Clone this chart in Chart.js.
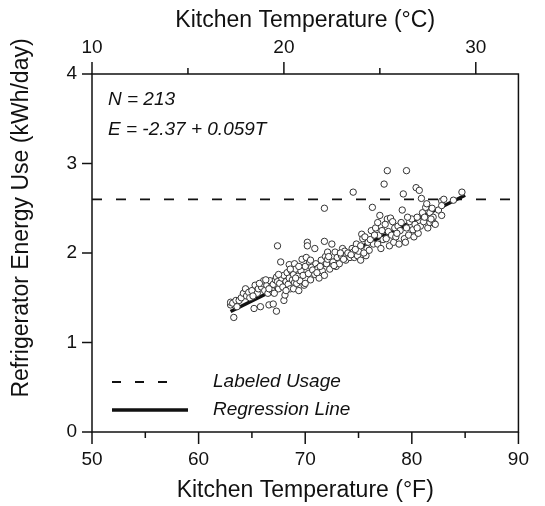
<!DOCTYPE html>
<html>
<head>
<meta charset="utf-8">
<script src="https://cdn.jsdelivr.net/npm/chart.js@4.4.1/dist/chart.umd.min.js"></script>
<style>
  html, body { margin: 0; padding: 0; background: #fff; }
  #wrap { width: 545px; height: 506px; position: relative; }
</style>
</head>
<body>
<div id="wrap"><canvas id="chart"></canvas></div>
<script>
// kitchen temperature (°F) and daily refrigerator energy use (kWh/day), paired by index
const tempF = [
  63.0, 63.0, 63.2, 63.3, 63.5, 63.6, 63.8, 64.0, 64.2, 64.4, 64.5, 64.7,
  65.0, 65.2, 65.3, 65.5, 65.6, 65.8, 65.9, 66.0, 66.1, 66.2, 66.4, 66.5, 66.6, 66.7, 66.8, 66.9,
  67.0, 67.0, 67.2, 67.3, 67.3, 67.4, 67.4, 67.5, 67.6, 67.7, 67.8, 67.9,
  68.0, 68.0, 68.1, 68.2, 68.3, 68.4, 68.5, 68.5, 68.6, 68.7, 68.8, 68.9, 68.9,
  69.0, 69.0, 69.1, 69.2, 69.3, 69.4, 69.5, 69.6, 69.7, 69.8, 69.9,
  70.0, 70.1, 70.2, 70.2, 70.3, 70.4, 70.5, 70.6, 70.7, 70.9, 70.9,
  71.0, 71.2, 71.3, 71.5, 71.6, 71.8, 71.8, 71.8, 71.9,
  72.0, 72.1, 72.1, 72.3, 72.5, 72.6, 72.8, 72.9,
  73.0, 73.2, 73.4, 73.5, 73.7, 73.8, 73.9,
  74.0, 74.2, 74.4, 74.5, 74.5, 74.6, 74.8, 74.9,
  75.0, 75.2, 75.2, 75.3, 75.4, 75.6, 75.7, 75.8, 75.9,
  76.0, 76.2, 76.3, 76.4, 76.6, 76.8, 76.8, 76.9,
  77.0, 77.1, 77.3, 77.4, 77.6, 77.7, 77.7, 77.8, 77.9,
  78.0, 78.1, 78.3, 78.4, 78.5, 78.7, 78.8, 78.9,
  79.0, 79.1, 79.2, 79.3, 79.4, 79.5, 79.5, 79.7, 79.8,
  80.0, 80.1, 80.2, 80.3, 80.4, 80.5, 80.6, 80.7, 80.8, 80.9,
  81.0, 81.1, 81.3, 81.4, 81.5, 81.7, 81.7, 81.9,
  82.0, 82.1, 82.2, 82.5, 82.8, 82.8, 82.8, 83.0, 83.9, 84.7,
  64.8, 65.1, 65.7, 66.3, 66.6, 67.1, 67.5, 68.2, 68.6, 69.1, 69.4, 70.0, 70.5, 71.1, 71.4, 72.2,
  72.7, 73.3, 73.6, 74.3, 74.7, 75.5, 76.1, 76.5, 77.2, 77.5, 78.2, 78.6, 79.6, 80.5, 81.2, 81.8
];
const energyUse = [
  1.42, 1.45, 1.44, 1.28, 1.47, 1.40, 1.47, 1.50, 1.55, 1.60, 1.52, 1.56,
  1.58, 1.38, 1.64, 1.55, 1.60, 1.40, 1.62, 1.66, 1.69, 1.58, 1.64, 1.55, 1.42, 1.69, 1.62, 1.58,
  1.43, 1.65, 1.70, 1.73, 1.35, 2.08, 1.68, 1.60, 1.66, 1.90, 1.72, 1.62,
  1.47, 1.75, 1.53, 1.68, 1.78, 1.65, 1.87, 1.72, 1.60, 1.80, 1.70, 1.60, 1.76,
  1.88, 1.67, 1.82, 1.66, 1.74, 1.58, 1.69, 1.80, 1.93, 1.75, 1.64,
  1.85, 1.95, 2.12, 2.08, 1.77, 1.90, 1.70, 1.84, 1.81, 2.05, 1.76,
  1.88, 1.83, 1.72, 1.92, 1.80, 2.13, 2.50, 1.75, 1.96,
  1.88, 2.01, 1.93, 1.82, 2.10, 1.90, 2.01, 1.85,
  1.95, 1.88, 1.97, 2.05, 2.02, 1.92, 1.98,
  2.00, 1.95, 2.05, 2.68, 2.01, 1.95, 2.10, 1.97,
  2.02, 2.08, 1.92, 2.21, 2.16, 2.18, 1.97, 2.05, 2.12,
  2.03, 2.25, 2.51, 2.10, 2.28, 2.34, 2.10, 2.20,
  2.42, 2.05, 2.15, 2.77, 2.16, 2.92, 2.38, 2.24, 2.08,
  2.39, 2.20, 2.12, 2.28, 2.18, 2.30, 2.10, 2.25,
  2.34, 2.48, 2.66, 2.16, 2.12, 2.92, 2.28, 2.20, 2.35,
  2.38, 2.26, 2.18, 2.32, 2.73, 2.40, 2.22, 2.70, 2.30, 2.61,
  2.45, 2.35, 2.51, 2.55, 2.28, 2.45, 2.34, 2.50,
  2.40, 2.33, 2.32, 2.48, 2.58, 2.53, 2.42, 2.60, 2.59, 2.68,
  1.50, 1.52, 1.66, 1.70, 1.60, 1.55, 1.76, 1.58, 1.82, 1.72, 1.85, 1.66, 1.92, 1.78, 1.85, 1.96,
  1.86, 2.00, 1.93, 1.98, 2.04, 2.00, 2.15, 2.20, 2.25, 2.32, 2.35, 2.22, 2.40, 2.28, 2.40, 2.38
];

// fitted line E = a + b*T over the observed range, and the label rating
const fitIntercept = -2.37;
const fitSlope = 0.059;
const fitRange = [63, 85];
const labeledUsage = 2.6;

const fMajor = [50, 60, 70, 80, 90];
const fMinor = [55, 65, 75, 85];
const cMajor = [10, 20, 30];
const cMinor = [15, 25];
const yMajor = [0, 1, 2, 3, 4];

const FONT = "'Liberation Sans', Arial, Helvetica, sans-serif";
const INK = '#111';

const scatterPts = tempF.map((t, i) => ({ x: t, y: energyUse[i] }));
const fitPts = fitRange.map(t => ({ x: t, y: fitIntercept + fitSlope * t }));
const labelPts = [{ x: 50, y: labeledUsage }, { x: 90, y: labeledUsage }];

// frame, tick marks, y title, notes and key
const decorations = {
  id: 'decorations',
  afterDraw(chart) {
    const { ctx, chartArea: a, scales } = chart;
    const line = (x1, y1, x2, y2) => { ctx.beginPath(); ctx.moveTo(x1, y1); ctx.lineTo(x2, y2); ctx.stroke(); };
    ctx.save();
    ctx.strokeStyle = INK;
    ctx.lineWidth = 1.5;
    ctx.strokeRect(a.left, a.top, a.right - a.left, a.bottom - a.top);

    fMajor.forEach(v => { const p = scales.x.getPixelForValue(v); line(p, a.bottom, p, a.bottom + 12); });
    fMinor.forEach(v => { const p = scales.x.getPixelForValue(v); line(p, a.bottom, p, a.bottom + 6); });
    cMajor.forEach(v => { const p = scales.xC.getPixelForValue(v); line(p, a.top, p, a.top - 12); });
    cMinor.forEach(v => { const p = scales.xC.getPixelForValue(v); line(p, a.top, p, a.top - 6); });
    yMajor.forEach(v => { const p = scales.y.getPixelForValue(v); line(a.left - 10, p, a.left, p); });

    ctx.fillStyle = INK;
    ctx.save();
    ctx.translate(22, 218);
    ctx.rotate(-Math.PI / 2);
    ctx.font = `23px ${FONT}`;
    ctx.textAlign = 'center';
    ctx.textBaseline = 'middle';
    ctx.fillText('Refrigerator Energy Use (kWh/day)', 0, 0);
    ctx.restore();

    ctx.font = `italic 19px ${FONT}`;
    ctx.textAlign = 'left';
    ctx.textBaseline = 'middle';
    ctx.fillText('N = 213', 108, 100);
    ctx.fillText('E = -2.37 + 0.059T', 108, 130);

    ctx.fillText('Labeled Usage', 213, 382);
    ctx.fillText('Regression Line', 213, 410);

    ctx.lineWidth = 1.8;
    ctx.setLineDash([9, 14]);
    line(112, 382, 172, 382);
    ctx.setLineDash([]);
    ctx.lineWidth = 3.5;
    line(112, 410, 188, 410);
    ctx.restore();
  }
};

new Chart(document.getElementById('chart'), {
  type: 'scatter',
  data: {
    datasets: [
      {
        data: scatterPts,
        order: 0,
        pointRadius: 3.2,
        pointBorderWidth: 1,
        borderColor: '#333',
        backgroundColor: '#fff'
      },
      {
        data: fitPts,
        order: 1,
        showLine: true,
        pointRadius: 0,
        borderColor: INK,
        borderWidth: 3.5
      },
      {
        data: labelPts,
        order: 2,
        showLine: true,
        pointRadius: 0,
        borderColor: INK,
        borderWidth: 1.8,
        borderDash: [10, 14]
      }
    ]
  },
  options: {
    responsive: true,
    maintainAspectRatio: false,
    animation: false,
    layout: { padding: { left: 0, right: 23, top: 0, bottom: 0 } },
    plugins: { legend: { display: false }, tooltip: { enabled: false } },
    scales: {
      x: {
        type: 'linear', position: 'bottom', min: 50, max: 90,
        afterBuildTicks: s => { s.ticks = fMajor.map(v => ({ value: v })); },
        afterFit: s => { s.height = 74; },
        grid: { display: false, drawTicks: false },
        border: { display: false },
        ticks: { color: INK, font: { family: FONT, size: 19 }, padding: 16 },
        title: { display: true, text: 'Kitchen Temperature (°F)', color: INK, font: { family: FONT, size: 23 }, padding: { top: 0, bottom: 2 } }
      },
      xC: {
        type: 'linear', position: 'top', min: (50 - 32) / 1.8, max: (90 - 32) / 1.8,
        afterBuildTicks: s => { s.ticks = cMajor.map(v => ({ value: v })); },
        afterFit: s => { s.height = 74; },
        grid: { display: false, drawTicks: false },
        border: { display: false },
        ticks: { color: INK, font: { family: FONT, size: 19 }, padding: 15 },
        title: { display: true, text: 'Kitchen Temperature (°C)', color: INK, font: { family: FONT, size: 23 }, padding: { top: 7, bottom: 0 } }
      },
      y: {
        position: 'left', min: 0, max: 4,
        afterBuildTicks: s => { s.ticks = yMajor.map(v => ({ value: v })); },
        afterFit: s => { s.width = 92; },
        grid: { display: false, drawTicks: false },
        border: { display: false },
        ticks: { color: INK, font: { family: FONT, size: 19 }, padding: 15 }
      }
    }
  },
  plugins: [decorations]
});
</script>
</body>
</html>
